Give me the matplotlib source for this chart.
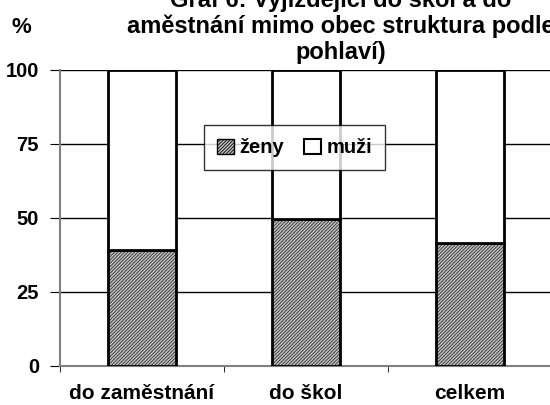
import matplotlib.pyplot as plt
import numpy as np
from matplotlib.patches import Patch

categories = ['do zaměstnání', 'do škol', 'celkem']
zeny = [39.2, 49.6, 41.7]
muzi = [60.8, 50.4, 58.3]
y_ticks = [0, 25, 50, 75, 100]
title_lines = ['Graf 6: Vyjíždějící do škol a do',
               'aměstnání mimo obec struktura podle',
               'pohlaví)']

plt.rcParams['font.family'] = ['Liberation Sans', 'DejaVu Sans']
plt.rcParams['font.weight'] = 'bold'
plt.rcParams['hatch.linewidth'] = 0.6

fig = plt.figure(figsize=(5.5, 4.05), dpi=100)
ax = fig.add_axes([0.109, 0.0963, 0.894, 0.731])

x = np.arange(len(categories))
width = 0.415
hatch_fill = '#c0c0c0'

# fill first, then outline on top
ax.bar(x, zeny, width, color=hatch_fill, hatch='//////////', edgecolor='#303030', linewidth=0, zorder=3)
ax.bar(x, zeny, width, facecolor='none', edgecolor='black', linewidth=2, zorder=4)
ax.bar(x, muzi, width, bottom=zeny, color='white', edgecolor='black', linewidth=2, zorder=4)

ax.set_xlim(-0.5, len(categories) - 0.5)
ax.set_ylim(0, 100)
ax.set_yticks(y_ticks)
ax.set_xticks(x)
ax.set_xticklabels(categories, fontsize=15, fontweight='bold')
ax.tick_params(axis='x', length=0, pad=13)
ax.set_xticks(np.arange(len(categories) + 1) - 0.5, minor=True)
ax.tick_params(axis='x', which='minor', length=4, direction='out', color='black')
ax.tick_params(axis='y', labelsize=14.5, length=7, direction='out', color='black', pad=8)
ax.yaxis.grid(True, color='black', linewidth=1)
ax.set_axisbelow(True)

for side in ['top', 'right']:
    ax.spines[side].set_visible(False)
ax.spines['left'].set_color('gray')
ax.spines['bottom'].set_color('gray')
ax.spines['left'].set_linewidth(1.5)
ax.spines['bottom'].set_linewidth(1.5)

handles = [Patch(facecolor=hatch_fill, hatch='//////////', edgecolor='black', label='ženy'),
           Patch(facecolor='white', edgecolor='black', linewidth=1.5, label='muži')]
leg = fig.legend(handles=handles, loc='center', bbox_to_anchor=(0.536, 0.635), ncol=2,
                 fontsize=14.5, frameon=True, fancybox=False, edgecolor='black',
                 handlelength=0.8, handleheight=0.8, handletextpad=0.3, columnspacing=1.0,
                 borderpad=0.65)
leg.get_frame().set_linewidth(1)

fig.text(0.02, 1 - 33 / 405, '%', fontsize=16, fontweight='bold', ha='left', va='baseline')
for i, line in enumerate(title_lines):
    fig.text(341 / 550, 1 - (7 + 26 * i) / 405, line, fontsize=17, fontweight='bold',
             ha='center', va='baseline')

fig.savefig('out.png', dpi=100)
